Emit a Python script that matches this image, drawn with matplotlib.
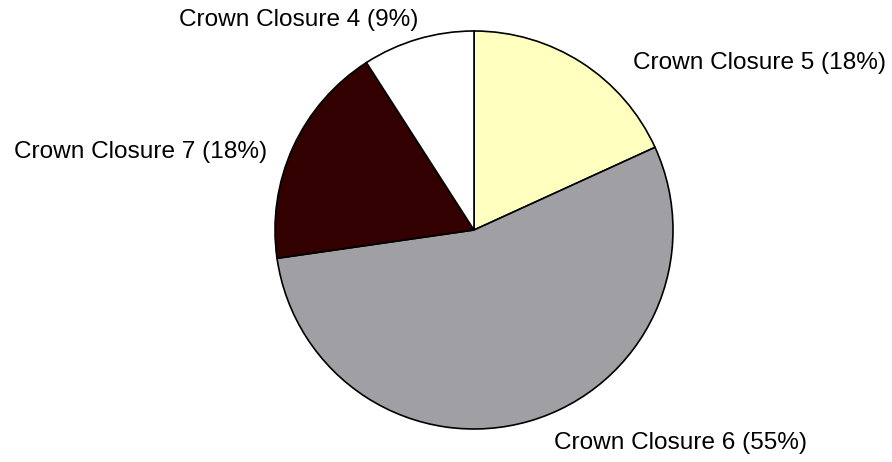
import matplotlib
matplotlib.use("Agg")
import matplotlib.pyplot as plt

categories = ["Crown Closure 5", "Crown Closure 6", "Crown Closure 7", "Crown Closure 4"]
values = [2, 6, 2, 1]
colors = ["#FFFFC0", "#A0A0A4", "#330000", "#FFFFFF"]

plt.rcParams['font.family'] = ['Liberation Sans', 'DejaVu Sans']

W, H = 892, 462
fig = plt.figure(figsize=(W / 100, H / 100), dpi=100)
cx, cy, r = 474, 230, 199
ax = fig.add_axes([(cx - r) / W, (H - cy - r) / H, 2 * r / W, 2 * r / H])

total = sum(values)
wedges, _ = ax.pie(values, colors=colors, startangle=90, counterclock=False,
                   radius=1.0, wedgeprops=dict(edgecolor="black", linewidth=1.2))
ax.set_xlim(-1, 1)
ax.set_ylim(-1, 1)
ax.set_aspect("equal")
ax.axis("off")

labels = [f"{c} ({round(v / total * 100)}%)" for c, v in zip(categories, values)]
label_pos = [(0.80, 0.84, "left"), (0.40, -1.07, "left"),
             (-1.04, 0.39, "right"), (-0.28, 1.055, "right")]
for lab, (x, y, ha) in zip(labels, label_pos):
    ax.text(x, y, lab, ha=ha, va="center", fontsize=17.6, color="black", clip_on=False)

fig.savefig("out.png", dpi=100, facecolor="white")
